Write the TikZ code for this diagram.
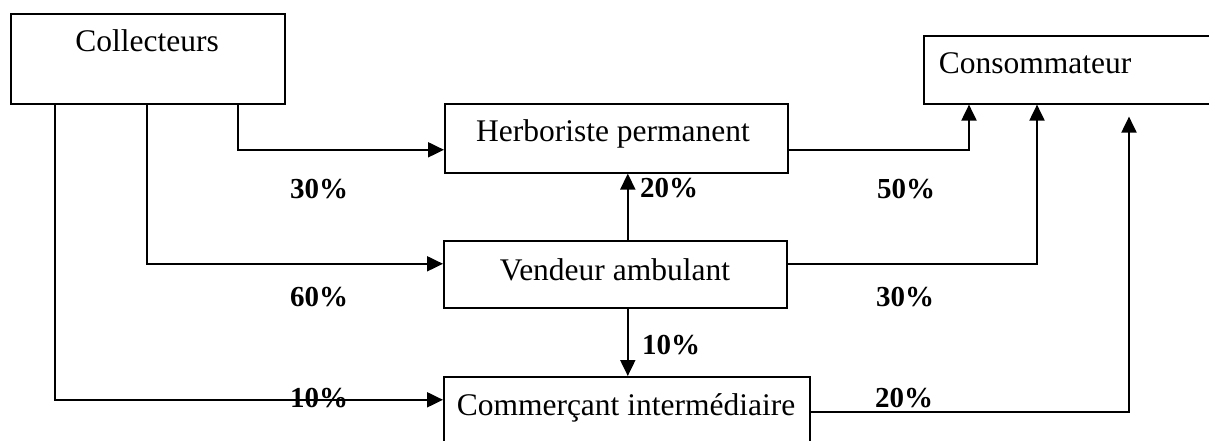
\documentclass[tikz,border=0pt]{standalone}
\usepackage{fontspec}
\setmainfont{Liberation Serif}
\usetikzlibrary{arrows.meta}

\tikzset{
  box/.style={draw, line width=1.6pt, rectangle, inner sep=0pt, anchor=north west},
  lbl/.style={anchor=base, inner sep=0pt, font=\fontsize{31.5}{36}\selectfont},
  pct/.style={anchor=base, inner sep=0pt, font=\fontsize{29}{34}\selectfont\bfseries},
  flow/.style={line width=2pt, -{Triangle[length=16pt,width=15pt]}},
}

\begin{document}
\begin{tikzpicture}[x=1pt,y=-1pt]
  \useasboundingbox (0,0) rectangle (1209,441);
  \clip (0,0) rectangle (1209,441);

  % boxes (sizes in pt, origin top left)
  \node[box, minimum width=274pt, minimum height=90pt] (coll) at (10,13) {};
  \node[box, minimum width=343pt, minimum height=69pt] (herb) at (444,103) {};
  \node[box, minimum width=343pt, minimum height=67pt] (vend) at (443,240) {};
  \node[box, minimum width=366pt, minimum height=70pt] (comm) at (443,376) {};
  \node[box, minimum width=320pt, minimum height=68pt] (cons) at (923,35) {};

  % box captions
  \node[lbl] (tcoll) at (147,52)  {Collecteurs};
  \node[lbl] (therb) at (613,142) {Herboriste permanent};
  \node[lbl] (tvend) at (615,280) {Vendeur ambulant};
  \node[lbl] (tcomm) at (626,415) {Commerçant intermédiaire};
  \node[lbl] (tcons) at (1035,74) {Consommateur};

  % shares
  \node[pct] (p1) at (319,198) {30\%};
  \node[pct] (p2) at (319,306) {60\%};
  \node[pct] (p3) at (319,407) {10\%};
  \node[pct] (p4) at (669,197) {20\%};
  \node[pct] (p5) at (671,354) {10\%};
  \node[pct] (p6) at (906,198) {50\%};
  \node[pct] (p7) at (905,306) {30\%};
  \node[pct] (p8) at (904,407) {20\%};

  % flows from the collectors
  \draw[flow] ([xshift=228pt]coll.south west) |- ([yshift=-11.5pt]herb.west);
  \draw[flow] ([xshift=137pt]coll.south west) |- ([yshift=10.5pt]vend.west);
  \draw[flow] ([xshift=45pt]coll.south west)  |- ([yshift=12pt]comm.west);

  % flows from the itinerant seller, up and down
  \draw[flow] ([xshift=12.5pt]vend.north) coordinate (vn) -- (vn |- herb.south);
  \draw[flow] ([xshift=12.5pt]vend.south) coordinate (vs) -- (vs |- comm.north);

  % flows to the consumer
  \draw[flow] ([yshift=-11.5pt]herb.east) -| ([xshift=46pt]cons.south west);
  \draw[flow] ([yshift=10.5pt]vend.east)  -| ([xshift=114pt]cons.south west);
  \draw[flow] (comm.east) -| ([xshift=206pt,yshift=-12pt]cons.south west);
\end{tikzpicture}
\end{document}
